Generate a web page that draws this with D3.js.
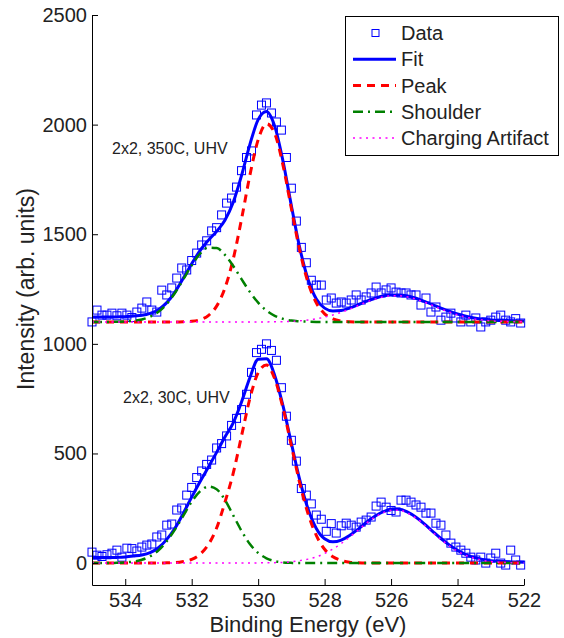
<!DOCTYPE html>
<html>
<head>
<meta charset="utf-8">
<script src="https://cdn.jsdelivr.net/npm/d3@7"></script>
<style>
body { margin: 0; background: #fff; }
text { font-family: "Liberation Sans", Arial, Helvetica, sans-serif; fill: #222; }
</style>
</head>
<body>
<svg id="chart" width="564" height="638"></svg>
<script>
// energy grids (eV): fitted curves every 0.25 eV, measured points every 0.15 eV
var curveE = d3.range(53).map(function(i){ return 535 - i * 0.25; });
var dataE = d3.range(87).map(function(i){ return 535 - i * 0.15; });

var xTicks = [534, 532, 530, 528, 526, 524, 522];
var yTicks = [0, 500, 1000, 1500, 2000, 2500];

// ---- bottom spectrum: 2x2, 30C, UHV ----
var bottomData = [50,36,30,38,45,59,27,68,66,55,
  73,82,87,119,128,173,178,242,251,310,
  345,390,420,450,470,525,545,580,628,660,
  700,770,870,960,975,1000,970,925,800,670,
  560,465,340,310,270,219,200,145,180,137,
  170,182,173,164,187,196,210,260,278,255,
  240,233,287,287,278,265,255,228,228,182,
  173,128,91,73,59,45,27,14,27,0,
  23,45,0,-9,59,14,-9];
var bottomFit = [25,25,25,26,28,32,37,48,70,108,
  160,228,301,371,437,505,575,640,735,845,
  930,932,855,716,546,381,248,158,111,97,
  105,126,154,185,212,233,245,245,232,209,
  179,145,112,83,58,39,26,17,11,8,
  6,5,4];
var bottomPeak = [0,0,0,0,0,0,0,0,0,1,
  2,7,17,40,84,160,277,410,580,750,
  868,903,840,706,535,366,226,126,63,29,
  12,4,1,0,0,0,0,0,0,0,
  0,0,0,0,0,0,0,0,0,0,
  0,0,0];
var bottomShoulder = [0,0,0,1,3,7,15,31,58,100,
  154,217,280,327,349,337,288,218,147,87,
  46,22,9,3,1,0,0,0,0,0,
  0,0,0,0,0,0,0,0,0,0,
  0,0,0,0,0,0,0,0,0,0,
  0,0,0];
var bottomCharging = [0,0,0,0,0,0,0,0,0,0,
  0,0,0,0,0,0,0,0,0,0,
  1,1,2,3,6,11,18,28,44,64,
  89,118,149,181,208,229,241,241,228,205,
  175,141,108,79,54,35,22,13,7,4,
  2,1,0];

// ---- top spectrum: 2x2, 350C, UHV ----
var topData = [1100,1154,1131,1131,1140,1128,1140,1131,1120,1145,
  1163,1191,1154,1145,1245,1223,1255,1300,1346,1337,
  1380,1414,1451,1470,1515,1530,1588,1642,1665,1715,
  1790,1850,1880,2044,2089,2099,2053,2012,1975,1850,
  1710,1560,1440,1370,1290,1268,1268,1200,1209,1186,
  1191,1186,1200,1223,1200,1214,1232,1259,1232,1246,
  1255,1236,1232,1232,1223,1223,1177,1209,1145,1168,
  1108,1122,1140,1118,1100,1131,1100,1118,1077,1100,
  1108,1122,1131,1108,1100,1115,1095];
var topFit = [1122,1122,1122,1123,1124,1127,1130,1139,1156,1188,
  1237,1300,1365,1425,1472,1513,1564,1646,1768,1909,
  2023,2060,1992,1832,1630,1439,1295,1205,1163,1150,
  1152,1163,1178,1194,1207,1218,1223,1223,1218,1208,
  1194,1179,1163,1149,1136,1126,1118,1113,1109,1107,
  1106,1105,1104];
var topPeak = [1100,1100,1100,1100,1100,1100,1100,1100,1100,1100,
  1100,1101,1103,1110,1129,1172,1254,1387,1569,1768,
  1931,2004,1959,1813,1617,1427,1281,1187,1137,1114,
  1104,1101,1100,1100,1100,1100,1100,1100,1100,1100,
  1100,1100,1100,1100,1100,1100,1100,1100,1100,1100,
  1100,1100,1100];
var topShoulder = [1100,1100,1100,1101,1102,1105,1111,1124,1146,1182,
  1233,1295,1358,1411,1439,1437,1406,1355,1295,1237,
  1188,1152,1128,1114,1106,1103,1101,1100,1100,1100,
  1100,1100,1100,1100,1100,1100,1100,1100,1100,1100,
  1100,1100,1100,1100,1100,1100,1100,1100,1100,1100,
  1100,1100,1100];
var topCharging = [1100,1100,1100,1100,1100,1100,1100,1100,1100,1100,
  1100,1100,1100,1100,1100,1100,1100,1100,1100,1100,
  1100,1100,1101,1101,1103,1105,1109,1114,1122,1132,
  1144,1158,1174,1190,1203,1214,1219,1219,1214,1204,
  1190,1175,1159,1145,1132,1122,1114,1109,1105,1103,
  1102,1101,1100];

var legendNames = ["Data", "Fit", "Peak", "Shoulder", "Charging Artifact"];

var svg = d3.select("#chart");

var x = d3.scaleLinear().domain([535, 522]).range([92, 524]);
var y = d3.scaleLinear().domain([-100, 2500]).range([585, 15]);

// styles of each series
var styles = {
  fit:      {stroke: "#0000ff", width: 3,   dash: null},
  peak:     {stroke: "#ff0000", width: 3,   dash: "8,6"},
  shoulder: {stroke: "#008000", width: 2.5, dash: "10,5,2,5"},
  charging: {stroke: "#ff00ff", width: 1.5, dash: "2,4.5"}
};

var line = d3.line()
  .x(function(d, i){ return x(curveE[i]); })
  .y(function(d){ return y(d); })
  .curve(d3.curveMonotoneX);

var drawSpectrum = function(cls, data, fit, peak, shoulder, charging){
  var g = svg.append("g").attr("class", cls);

  g.selectAll(".pt")
    .data(data)
    .enter()
    .append("rect")
    .attr("class", "pt")
    .attr("x", function(d, i){ return x(dataE[i]) - 4; })
    .attr("y", function(d){ return y(d) - 4; })
    .attr("width", 8)
    .attr("height", 8)
    .attr("fill", "none")
    .attr("stroke", "#0000ff")
    .attr("stroke-width", 1);

  [["fit", fit], ["peak", peak], ["shoulder", shoulder], ["charging", charging]].forEach(function(s){
    var st = styles[s[0]];
    g.append("path")
      .datum(s[1])
      .attr("d", line)
      .attr("fill", "none")
      .attr("stroke", st.stroke)
      .attr("stroke-width", st.width)
      .attr("stroke-dasharray", st.dash);
  });
};

drawSpectrum("bottom", bottomData, bottomFit, bottomPeak, bottomShoulder, bottomCharging);
drawSpectrum("top", topData, topFit, topPeak, topShoulder, topCharging);

// axes, ticks pointing inward
var gx = svg.append("g")
  .attr("transform", "translate(0,585)")
  .call(d3.axisBottom(x).tickValues(xTicks).tickSizeInner(-6).tickSizeOuter(0).tickPadding(8)
    .tickFormat(d3.format("d")));
var gy = svg.append("g")
  .attr("transform", "translate(92,0)")
  .call(d3.axisLeft(y).tickValues(yTicks).tickSizeInner(-6).tickSizeOuter(0).tickPadding(5)
    .tickFormat(d3.format("d")));
[gx, gy].forEach(function(g){
  g.attr("font-family", null).attr("font-size", null).attr("color", "#000");
  g.selectAll("text").style("font-size", "20px");
  g.selectAll("line").attr("stroke-width", 1);
});

// annotations
svg.append("text").attr("x", 112).attr("y", 154).style("font-size", "16px").text("2x2, 350C, UHV");
svg.append("text").attr("x", 123).attr("y", 403).style("font-size", "16px").text("2x2, 30C, UHV");

// axis titles
svg.append("text")
  .attr("text-anchor", "middle")
  .attr("x", 308).attr("y", 632)
  .style("font-size", "22px")
  .text("Binding Energy (eV)");
svg.append("text")
  .attr("text-anchor", "middle")
  .attr("transform", "translate(34,289) rotate(-90)")
  .style("font-size", "23px")
  .text("Intensity (arb. units)");

// legend
var legend = svg.append("g").attr("transform", "translate(345,16)");
legend.append("rect")
  .attr("x", 0.5).attr("y", 0.5)
  .attr("width", 213).attr("height", 139)
  .attr("fill", "#fff").attr("stroke", "#000").attr("stroke-width", 1);

var rowY = d3.scalePoint().domain(legendNames).range([17, 122]);
var keys = [null, "fit", "peak", "shoulder", "charging"];

legendNames.forEach(function(name, i){
  var yy = rowY(name);
  if(keys[i] === null){
    legend.append("rect")
      .attr("x", 27).attr("y", yy - 3.5)
      .attr("width", 7).attr("height", 7)
      .attr("fill", "none").attr("stroke", "#0000ff").attr("stroke-width", 1);
  } else {
    var st = styles[keys[i]];
    legend.append("line")
      .attr("x1", 8).attr("x2", 51)
      .attr("y1", yy).attr("y2", yy)
      .attr("stroke", st.stroke)
      .attr("stroke-width", st.width)
      .attr("stroke-dasharray", st.dash);
  }
  legend.append("text")
    .attr("x", 56).attr("y", yy)
    .attr("dy", "0.35em")
    .style("font-size", "20px")
    .text(name);
});
</script>
</body>
</html>
